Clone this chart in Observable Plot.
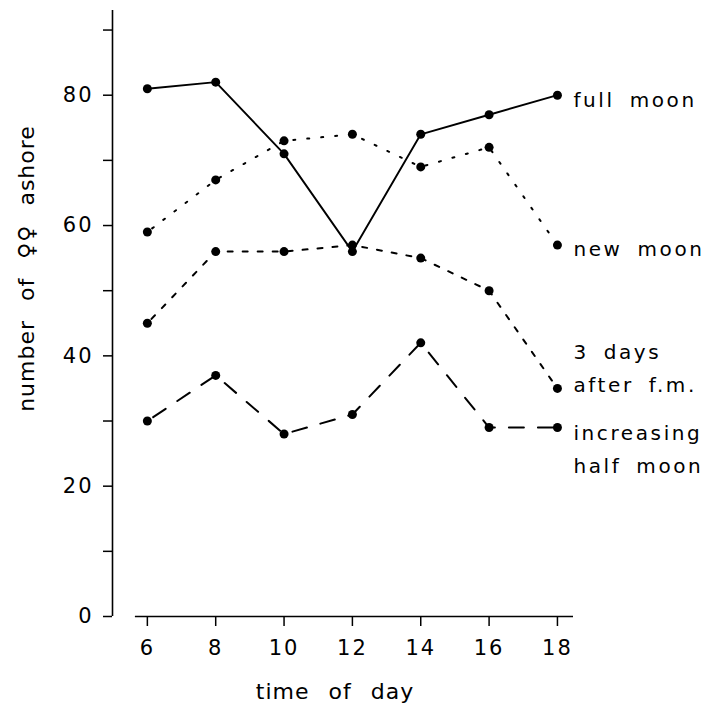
<!DOCTYPE html>
<html><head><meta charset="utf-8">
<script src="https://cdn.jsdelivr.net/npm/d3@7"></script>
<script src="https://cdn.jsdelivr.net/npm/@observablehq/plot@0.6"></script>
<style>
body{margin:0;background:#fff}
g[aria-description="axis-title"] text{letter-spacing:1px;word-spacing:11px}
g[aria-description="series-label"] text{letter-spacing:2.6px;word-spacing:6px}
g[aria-label="y-axis tick label"] text, g[aria-label="x-axis tick label"] text{letter-spacing:2px}
</style>
</head><body><div id="chart"></div>
<script>
// ---- data ----
const hours = [6, 8, 10, 12, 14, 16, 18];
const fullMoon = [81, 82, 71, 56, 74, 77, 80];
const newMoon = [59, 67, 73, 74, 69, 72, 57];
const threeDaysAfter = [45, 56, 56, 57, 55, 50, 35];
const increasingHalfMoon = [30, 37, 28, 31, 42, 29, 29];
const seriesNames = ["full moon", "new moon", "3 days after f.m.", "increasing half moon"];
const seriesLabels = ["full moon", "new moon", "3 days\nafter f.m.", "increasing\nhalf moon"];
const yTicks = [0, 10, 20, 30, 40, 50, 60, 70, 80, 90];
const yTickLabels = ["0", "", "20", "", "40", "", "60", "", "80", ""];
const xTickLabels = ["6", "8", "10", "12", "14", "16", "18"];
const xTitle = "time of day";
const yTitle = "number of ♀♀ ashore";

// ---- build table ----
const seriesValues = [fullMoon, newMoon, threeDaysAfter, increasingHalfMoon];
const rows = seriesNames.flatMap((s, k) => hours.map((h, i) => ({series: s, hour: h, value: seriesValues[k][i]})));
const lastRows = seriesNames.map((s, k) => ({series: s, hour: hours[hours.length - 1], value: seriesValues[k][hours.length - 1], label: seriesLabels[k]}));

// ---- styles ----
const dash = {"full moon": null, "new moon": "2,12", "3 days after f.m.": "5,10", "increasing half moon": "15,14"};
const dashOffset = {"full moon": 0, "new moon": -6, "3 days after f.m.": -6, "increasing half moon": -7};
const labelDy = {"full moon": 1, "new moon": 0, "3 days after f.m.": -23, "increasing half moon": 18};
const xDomain = [4.98, 18.47];
const xAxisStart = 5.65;
const yDomain = [0, 93];

const marks = [
  Plot.ruleY([0], {x1: xAxisStart, x2: xDomain[1], stroke: "black", strokeWidth: 1.6}),
  Plot.ruleX([xDomain[0]], {y1: yDomain[0], y2: yDomain[1], stroke: "black", strokeWidth: 1.6}),
  Plot.axisX({ticks: hours, tickFormat: d => xTickLabels[hours.indexOf(d)], tickSize: 10, tickPadding: 14, label: null, strokeWidth: 1.5, fontSize: 21}),
  Plot.axisY({ticks: yTicks, tickFormat: d => yTickLabels[yTicks.indexOf(d)], tickSize: 9, tickPadding: 10, label: null, strokeWidth: 1.5, fontSize: 21}),
  Plot.text([yTitle], {frameAnchor: "left", textAnchor: "middle", lineAnchor: "middle", rotate: -90, dx: -86, dy: -45, fontSize: 22, ariaDescription: "axis-title"}),
  Plot.text([xTitle], {frameAnchor: "bottom", textAnchor: "middle", lineAnchor: "middle", dx: -8, dy: 75, fontSize: 22, ariaDescription: "axis-title"})
];
for (const s of seriesNames) {
  marks.push(Plot.line(rows.filter(d => d.series === s), {x: "hour", y: "value", stroke: "black", strokeWidth: s === "full moon" ? 1.9 : 2, strokeDasharray: dash[s], strokeDashoffset: dashOffset[s]}));
  marks.push(Plot.text(lastRows.filter(d => d.series === s), {x: "hour", y: "value", text: "label", textAnchor: "start", dx: 16, dy: labelDy[s], lineHeight: 1.65, fontSize: 20, ariaDescription: "series-label"}));
}
marks.push(Plot.dot(rows, {x: "hour", y: "value", r: 4.5, fill: "black", stroke: "none"}));

const chart = Plot.plot({
  width: 708, height: 706,
  marginLeft: 112, marginRight: 135, marginTop: 10, marginBottom: 90,
  x: {domain: xDomain},
  y: {domain: yDomain},
  style: {fontFamily: "DejaVu Sans", fontSize: "19px", background: "white", color: "black"},
  marks
});
document.getElementById("chart").append(chart);
</script>
</body></html>
